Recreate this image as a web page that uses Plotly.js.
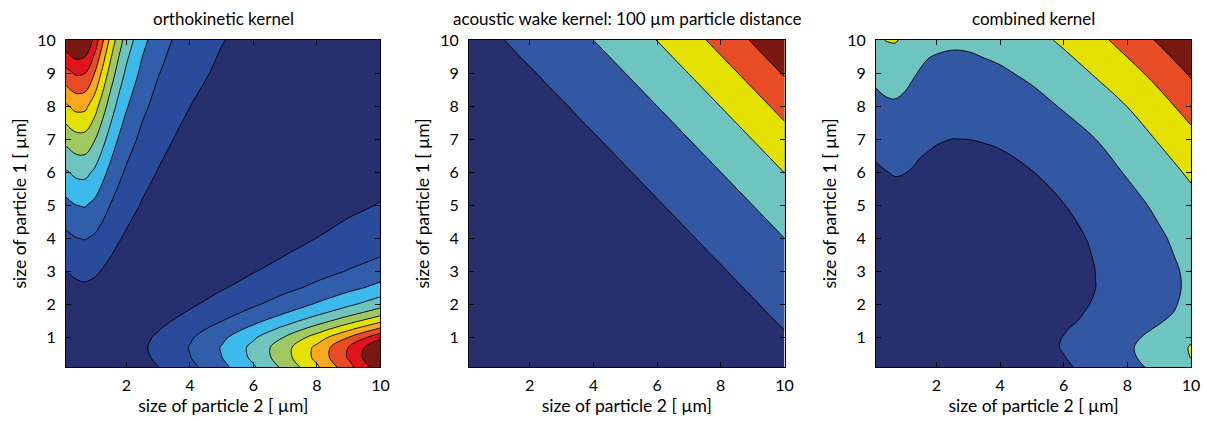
<!DOCTYPE html>
<html>
<head>
<meta charset="utf-8">
<script src="https://cdn.plot.ly/plotly-3.0.1.min.js"></script>
<style>
  html, body { margin: 0; padding: 0; background: #ffffff; }
  #chart { width: 1207px; height: 421px; }
</style>
</head>
<body>
<div id="chart"></div>
<script>
// Particle sizes (µm) sampled on both axes
const sizes = [0.1, 0.4, 0.7, 1, 1.25, 1.5, 1.75, 2, 2.5, 3, 3.5, 4, 5, 6, 7, 8, 9, 10];

// Orthokinetic kernel, in contour-level units (rows: particle 1, columns: particle 2)
const orthokinetic = [
  [0, 0.003, 0.025, 0.079, 0.147, 0.231, 0.327, 0.436, 0.689, 0.992, 1.346, 1.751, 2.717, 3.891, 5.274, 6.866, 8.667, 10.678],
  [0.003, 0, 0.031, 0.105, 0.193, 0.296, 0.412, 0.538, 0.823, 1.156, 1.538, 1.971, 2.989, 4.213, 5.644, 7.282, 9.126, 11.178],
  [0.025, 0.031, 0, 0.086, 0.189, 0.308, 0.437, 0.574, 0.877, 1.221, 1.610, 2.045, 3.056, 4.258, 5.652, 7.239, 9.019, 10.992],
  [0.079, 0.105, 0.086, 0, 0.109, 0.234, 0.366, 0.503, 0.798, 1.121, 1.479, 1.874, 2.780, 3.844, 5.068, 6.454, 8.002, 9.711],
  [0.147, 0.193, 0.189, 0.109, 0, 0.125, 0.255, 0.387, 0.659, 0.950, 1.265, 1.607, 2.383, 3.285, 4.316, 5.476, 6.767, 8.190],
  [0.231, 0.296, 0.308, 0.234, 0.125, 0, 0.127, 0.253, 0.504, 0.762, 1.035, 1.327, 1.978, 2.726, 3.574, 4.524, 5.576, 6.733],
  [0.327, 0.412, 0.437, 0.366, 0.255, 0.127, 0, 0.123, 0.357, 0.589, 0.828, 1.079, 1.628, 2.250, 2.949, 3.727, 4.587, 5.528],
  [0.436, 0.538, 0.574, 0.503, 0.387, 0.253, 0.123, 0, 0.226, 0.440, 0.653, 0.873, 1.343, 1.868, 2.452, 3.099, 3.810, 4.586],
  [0.689, 0.823, 0.877, 0.798, 0.659, 0.504, 0.357, 0.226, 0, 0.196, 0.380, 0.560, 0.928, 1.322, 1.753, 2.222, 2.733, 3.288],
  [0.992, 1.156, 1.221, 1.121, 0.950, 0.762, 0.589, 0.440, 0.196, 0, 0.172, 0.332, 0.643, 0.962, 1.300, 1.663, 2.054, 2.474],
  [1.346, 1.538, 1.610, 1.479, 1.265, 1.035, 0.828, 0.653, 0.380, 0.172, 0, 0.153, 0.433, 0.706, 0.987, 1.283, 1.597, 1.932],
  [1.751, 1.971, 2.045, 1.874, 1.607, 1.327, 1.079, 0.873, 0.560, 0.332, 0.153, 0, 0.266, 0.512, 0.756, 1.007, 1.271, 1.548],
  [2.717, 2.989, 3.056, 2.780, 2.383, 1.978, 1.628, 1.343, 0.928, 0.643, 0.433, 0.266, 0, 0.222, 0.428, 0.629, 0.831, 1.040],
  [3.891, 4.213, 4.258, 3.844, 3.285, 2.726, 2.250, 1.868, 1.322, 0.962, 0.706, 0.512, 0.222, 0, 0.192, 0.369, 0.541, 0.713],
  [5.274, 5.644, 5.652, 5.068, 4.316, 3.574, 2.949, 2.452, 1.753, 1.300, 0.987, 0.756, 0.428, 0.192, 0, 0.169, 0.326, 0.478],
  [6.866, 7.282, 7.239, 6.454, 5.476, 4.524, 3.727, 3.099, 2.222, 1.663, 1.283, 1.007, 0.629, 0.369, 0.169, 0, 0.151, 0.292],
  [8.667, 9.126, 9.019, 8.002, 6.767, 5.576, 4.587, 3.810, 2.733, 2.054, 1.597, 1.271, 0.831, 0.541, 0.326, 0.151, 0, 0.137],
  [10.678, 11.178, 10.992, 9.711, 8.190, 6.733, 5.528, 4.586, 3.288, 2.474, 1.932, 1.548, 1.040, 0.713, 0.478, 0.292, 0.137, 0]
];

// Acoustic wake kernel at 100 µm particle distance, in contour-level units
const acousticWake = [
  [-0.060, -0.060, -0.060, -0.059, -0.058, -0.057, -0.055, -0.053, -0.047, -0.038, -0.025, -0.008, 0.040, 0.110, 0.209, 0.339, 0.506, 0.713],
  [-0.060, -0.060, -0.059, -0.058, -0.057, -0.055, -0.053, -0.050, -0.042, -0.031, -0.016, 0.004, 0.058, 0.137, 0.244, 0.385, 0.564, 0.784],
  [-0.060, -0.059, -0.058, -0.056, -0.054, -0.052, -0.049, -0.045, -0.035, -0.022, -0.004, 0.018, 0.079, 0.166, 0.283, 0.434, 0.625, 0.860],
  [-0.059, -0.058, -0.056, -0.054, -0.052, -0.048, -0.044, -0.040, -0.028, -0.012, 0.008, 0.034, 0.102, 0.197, 0.324, 0.487, 0.691, 0.939],
  [-0.058, -0.057, -0.054, -0.052, -0.048, -0.044, -0.040, -0.034, -0.020, -0.002, 0.020, 0.049, 0.123, 0.226, 0.361, 0.534, 0.748, 1.009],
  [-0.057, -0.055, -0.052, -0.048, -0.044, -0.040, -0.034, -0.028, -0.012, 0.008, 0.034, 0.065, 0.146, 0.257, 0.401, 0.584, 0.809, 1.082],
  [-0.055, -0.053, -0.049, -0.044, -0.040, -0.034, -0.028, -0.020, -0.002, 0.020, 0.049, 0.083, 0.171, 0.289, 0.443, 0.636, 0.873, 1.158],
  [-0.053, -0.050, -0.045, -0.040, -0.034, -0.028, -0.020, -0.012, 0.008, 0.034, 0.065, 0.102, 0.197, 0.324, 0.487, 0.691, 0.939, 1.237],
  [-0.047, -0.042, -0.035, -0.028, -0.020, -0.012, -0.002, 0.008, 0.034, 0.065, 0.102, 0.146, 0.257, 0.401, 0.584, 0.809, 1.082, 1.406],
  [-0.038, -0.031, -0.022, -0.012, -0.002, 0.008, 0.020, 0.034, 0.065, 0.102, 0.146, 0.197, 0.324, 0.487, 0.691, 0.939, 1.237, 1.589],
  [-0.025, -0.016, -0.004, 0.008, 0.020, 0.034, 0.049, 0.065, 0.102, 0.146, 0.197, 0.257, 0.401, 0.584, 0.809, 1.082, 1.406, 1.787],
  [-0.008, 0.004, 0.018, 0.034, 0.049, 0.065, 0.083, 0.102, 0.146, 0.197, 0.257, 0.324, 0.487, 0.691, 0.939, 1.237, 1.589, 2.000],
  [0.040, 0.058, 0.079, 0.102, 0.123, 0.146, 0.171, 0.197, 0.257, 0.324, 0.401, 0.487, 0.691, 0.939, 1.237, 1.589, 2.000, 2.474],
  [0.110, 0.137, 0.166, 0.197, 0.226, 0.257, 0.289, 0.324, 0.401, 0.487, 0.584, 0.691, 0.939, 1.237, 1.589, 2.000, 2.474, 3.015],
  [0.209, 0.244, 0.283, 0.324, 0.361, 0.401, 0.443, 0.487, 0.584, 0.691, 0.809, 0.939, 1.237, 1.589, 2.000, 2.474, 3.015, 3.628],
  [0.339, 0.385, 0.434, 0.487, 0.534, 0.584, 0.636, 0.691, 0.809, 0.939, 1.082, 1.237, 1.589, 2.000, 2.474, 3.015, 3.628, 4.318],
  [0.506, 0.564, 0.625, 0.691, 0.748, 0.809, 0.873, 0.939, 1.082, 1.237, 1.406, 1.589, 2.000, 2.474, 3.015, 3.628, 4.318, 5.089],
  [0.713, 0.784, 0.860, 0.939, 1.009, 1.082, 1.158, 1.237, 1.406, 1.589, 1.787, 2.000, 2.474, 3.015, 3.628, 4.318, 5.089, 5.946]
];

// Combined kernel, in the same level units as the acoustic wake kernel
const combined = [
  [-0.060, -0.059, -0.055, -0.043, -0.029, -0.011, 0.010, 0.034, 0.091, 0.161, 0.244, 0.342, 0.583, 0.889, 1.263, 1.712, 2.239, 2.849],
  [-0.059, -0.060, -0.053, -0.037, -0.018, 0.004, 0.030, 0.058, 0.123, 0.201, 0.292, 0.398, 0.656, 0.979, 1.373, 1.841, 2.389, 3.020],
  [-0.055, -0.053, -0.058, -0.039, -0.017, 0.009, 0.038, 0.070, 0.140, 0.222, 0.318, 0.427, 0.690, 1.050, 1.413, 1.882, 2.429, 3.058],
  [-0.043, -0.037, -0.039, -0.054, -0.030, -0.002, 0.029, 0.061, 0.132, 0.212, 0.304, 0.409, 0.658, 1.020, 1.338, 1.778, 2.291, 2.882],
  [-0.029, -0.018, -0.017, -0.030, -0.048, -0.020, 0.011, 0.043, 0.111, 0.188, 0.273, 0.370, 0.600, 0.950, 1.300, 1.629, 2.102, 2.647],
  [-0.011, 0.004, 0.009, -0.002, -0.020, -0.040, -0.009, 0.023, 0.089, 0.161, 0.241, 0.330, 0.542, 0.802, 1.250, 1.488, 1.924, 2.428],
  [0.010, 0.030, 0.038, 0.029, 0.011, -0.009, -0.028, 0.004, 0.069, 0.138, 0.214, 0.299, 0.497, 0.739, 1.150, 1.381, 1.790, 2.264],
  [0.034, 0.058, 0.070, 0.061, 0.043, 0.023, 0.004, -0.012, 0.054, 0.122, 0.196, 0.277, 0.466, 0.698, 1.070, 1.311, 1.741, 2.195],
  [0.091, 0.123, 0.140, 0.132, 0.111, 0.089, 0.069, 0.054, 0.034, 0.104, 0.178, 0.258, 0.442, 0.666, 0.997, 1.253, 1.698, 2.134],
  [0.161, 0.201, 0.222, 0.212, 0.188, 0.161, 0.138, 0.122, 0.104, 0.102, 0.181, 0.264, 0.453, 0.680, 1.003, 1.272, 1.718, 2.154],
  [0.244, 0.292, 0.318, 0.304, 0.273, 0.241, 0.214, 0.196, 0.178, 0.181, 0.198, 0.287, 0.488, 0.725, 1.040, 1.338, 1.796, 2.244],
  [0.342, 0.398, 0.427, 0.409, 0.370, 0.330, 0.299, 0.277, 0.258, 0.264, 0.287, 0.324, 0.540, 0.793, 1.090, 1.439, 1.883, 2.350],
  [0.583, 0.656, 0.690, 0.658, 0.600, 0.542, 0.497, 0.466, 0.442, 0.453, 0.488, 0.540, 0.691, 0.984, 1.323, 1.715, 2.166, 2.682],
  [0.889, 0.979, 1.050, 1.020, 0.950, 0.802, 0.739, 0.698, 0.666, 0.680, 0.725, 0.793, 0.984, 1.237, 1.628, 2.074, 2.582, 3.158],
  [1.263, 1.373, 1.413, 1.338, 1.300, 1.250, 1.150, 1.070, 0.997, 1.003, 1.040, 1.090, 1.323, 1.628, 2.000, 2.508, 3.080, 3.724],
  [1.712, 1.841, 1.882, 1.778, 1.629, 1.488, 1.381, 1.311, 1.253, 1.272, 1.338, 1.439, 1.715, 2.074, 2.508, 3.015, 3.659, 4.377],
  [2.239, 2.389, 2.429, 2.291, 2.102, 1.924, 1.790, 1.741, 1.698, 1.718, 1.796, 1.883, 2.166, 2.582, 3.080, 3.659, 4.318, 5.117],
  [2.849, 3.020, 3.058, 2.882, 2.647, 2.428, 2.264, 2.195, 2.134, 2.154, 2.244, 2.350, 2.682, 3.158, 3.724, 4.377, 5.117, 5.946]
];

// Band colours, lowest band first
const orthoColors = [
  'rgb(39,47,110)', 'rgb(42,74,155)', 'rgb(49,94,170)', 'rgb(60,186,235)',
  'rgb(110,196,190)', 'rgb(160,200,96)', 'rgb(228,224,0)', 'rgb(248,168,28)',
  'rgb(232,76,36)', 'rgb(224,20,26)', 'rgb(122,24,20)'
];
const wakeColors = [
  'rgb(39,47,110)', 'rgb(50,88,164)', 'rgb(110,196,190)',
  'rgb(228,224,0)', 'rgb(232,76,36)', 'rgb(122,24,20)'
];

const panelTitles = ['orthokinetic kernel', 'acoustic wake kernel: 100 \u00b5m particle distance', 'combined kernel'];
const xTickVals = [2, 4, 6, 8, 10];
const yTickVals = [1, 2, 3, 4, 5, 6, 7, 8, 9, 10];
const xLabel = 'size of particle 2 [ \u00b5m]';
const yLabel = 'size of particle 1 [ \u00b5m]';

const FONT = 'Lato, "Open Sans", sans-serif';

function bandScale(colors) {
  return colors.map((c, i) => [i / (colors.length - 1), c]);
}

function contourTrace(z, colors, xa, ya) {
  return {
    type: 'contour',
    x: sizes, y: sizes, z: z,
    xaxis: xa, yaxis: ya,
    showscale: false,
    colorscale: bandScale(colors),
    contours: { start: 1, end: colors.length - 1, size: 1, coloring: 'fill', showlines: true },
    line: { color: '#000000', width: 0.9, smoothing: 1 },
    hoverinfo: 'skip'
  };
}

const xDomains = [[0.05468, 0.31524], [0.38857, 0.64996], [0.72577, 0.98674]];
const yDomain = [0.12827, 0.90499];

function xAxis(domain, anchor) {
  return {
    domain: domain, anchor: anchor, range: [0.1, 10],
    tickmode: 'array', tickvals: xTickVals,
    ticks: 'inside', ticklen: 5, tickcolor: '#000', mirror: 'ticks',
    showline: true, linecolor: '#000', linewidth: 1,
    showgrid: false, zeroline: false,
    tickfont: { family: FONT, size: 16, color: '#000' },
    ticklabelstandoff: 4,
    title: { text: xLabel, font: { family: FONT, size: 17.5, color: '#000' }, standoff: 6 }
  };
}

function yAxis(anchor) {
  return {
    domain: yDomain, anchor: anchor, range: [0.1, 10],
    tickmode: 'array', tickvals: yTickVals,
    ticks: 'inside', ticklen: 5, tickcolor: '#000', mirror: 'ticks',
    showline: true, linecolor: '#000', linewidth: 1,
    showgrid: false, zeroline: false,
    tickfont: { family: FONT, size: 16, color: '#000' },
    ticklabelstandoff: 6,
    title: { text: yLabel, font: { family: FONT, size: 17.5, color: '#000' }, standoff: 6 }
  };
}

const data = [
  contourTrace(orthokinetic, orthoColors, 'x', 'y'),
  contourTrace(acousticWake, wakeColors, 'x2', 'y2'),
  contourTrace(combined, wakeColors, 'x3', 'y3')
];

const annotations = panelTitles.map((t, i) => ({
  text: t, xref: 'paper', yref: 'paper',
  x: (xDomains[i][0] + xDomains[i][1]) / 2, y: 0.957,
  xanchor: 'center', yanchor: 'middle', showarrow: false,
  font: { family: FONT, size: 17, color: '#000' }
}));

const layout = {
  width: 1207, height: 421,
  margin: { l: 0, r: 0, t: 0, b: 0 },
  paper_bgcolor: '#ffffff', plot_bgcolor: '#ffffff',
  font: { family: FONT, size: 16, color: '#000' },
  showlegend: false,
  xaxis: xAxis(xDomains[0], 'y'), yaxis: yAxis('x'),
  xaxis2: xAxis(xDomains[1], 'y2'), yaxis2: yAxis('x2'),
  xaxis3: xAxis(xDomains[2], 'y3'), yaxis3: yAxis('x3'),
  annotations: annotations
};

Plotly.newPlot('chart', data, layout, { staticPlot: true, displayModeBar: false });
</script>
</body>
</html>
